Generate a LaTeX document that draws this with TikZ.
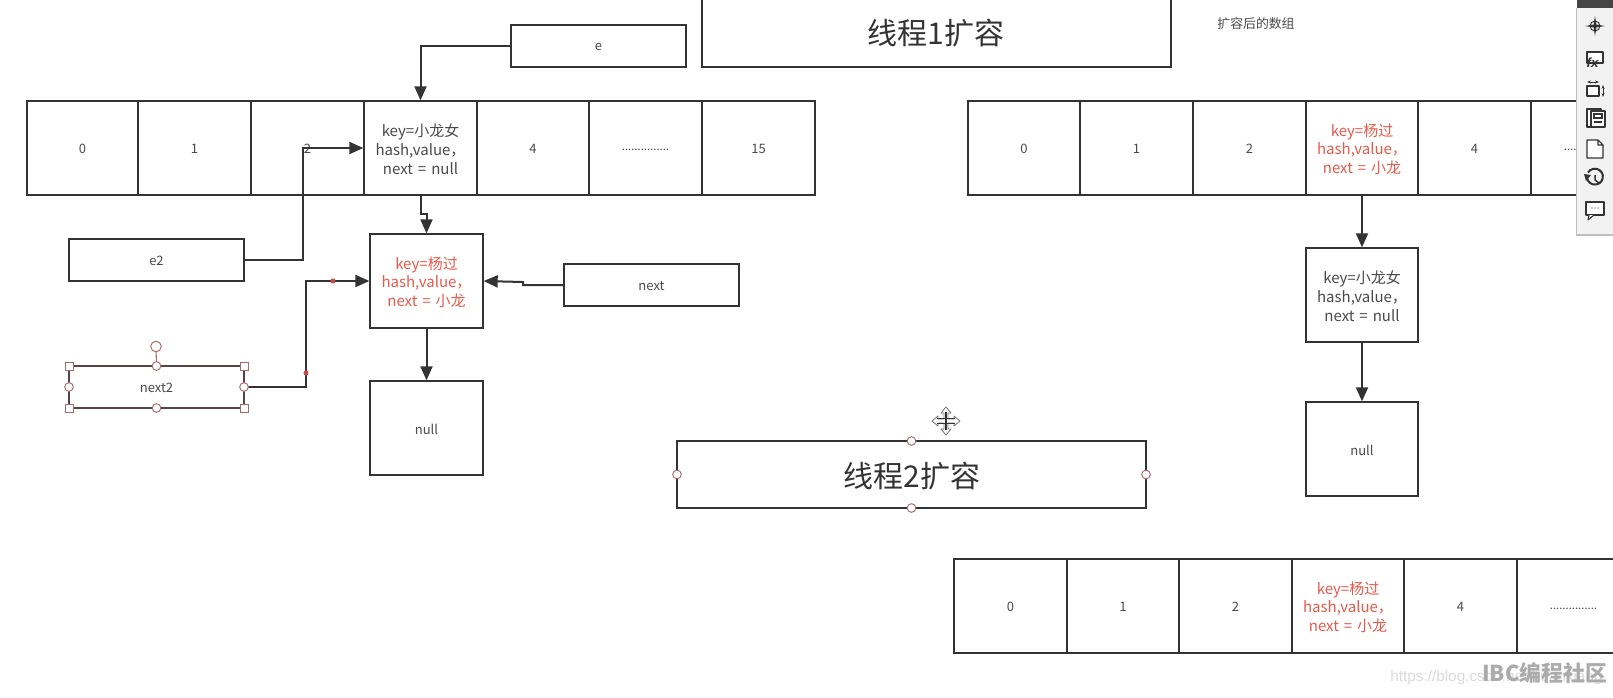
\documentclass[tikz,border=0pt]{standalone}
\usepackage{fontspec}
\setmainfont{Noto Sans CJK SC}
\newfontfamily\urlfont{Liberation Sans}
\usetikzlibrary{arrows.meta}
\definecolor{ink}{HTML}{333333}
\definecolor{txt}{HTML}{4A4A4A}
\definecolor{redt}{HTML}{EA5A4C}
\definecolor{hnd}{HTML}{A86A6A}
\definecolor{tbar}{HTML}{F2F2F2}
\definecolor{tbtop}{HTML}{454545}
\tikzset{
  bx/.style={draw=ink,line width=1.5pt,fill=white,inner sep=0pt,outer sep=0pt,align=center,text=txt,
     font=\fontsize{9.75}{14}\selectfont},
  big/.style={font=\fontsize{11.25}{14}\selectfont},
  redtext/.style={big,text=redt},
  title/.style={font=\fontsize{22.5}{26}\selectfont,text=ink},
  conn/.style={draw=ink,line width=1.5pt,-{Triangle[length=10.5pt,width=9pt]},shorten >=0.5pt},
  sq/.style={draw=hnd,fill=white,line width=0.7pt,minimum size=6pt,inner sep=0pt,rectangle},
  rd/.style={draw=hnd,fill=white,line width=0.7pt,minimum size=6.5pt,inner sep=0pt,circle},
  icon/.style={draw=ink,line width=0.8pt,fill=white,line join=round},
}
\newcommand{\bx}[7][]{%
  \node[bx,#1,anchor=north west,minimum width={(#4-#2)*0.75pt},minimum height={(#5-#3)*0.75pt}] (#6) at (#2,#3) {};
  \node[bx,#1,draw=none,fill=none,yshift=-0.8pt] (#6t) at (#6.center) {#7};}
\newcommand{\dotsrow}{\raisebox{-3pt}{\fontsize{8.5}{10}\selectfont ...............}}
\newcommand{\eqq}{\hspace{1.2pt}=\hspace{1.2pt}}
\begin{document}
\begin{tikzpicture}[x=0.75pt,y=-0.75pt]
\useasboundingbox (0,0) rectangle (1613,697);
\clip (0,0) rectangle (1613,697);
\fill[white] (0,0) rectangle (1613,697);

% left array
\bx{27}{101}{138}{195}{a0}{0}
\bx{138}{101}{251}{195}{a1}{1}
\bx{251}{101}{364}{195}{a2}{2}
\bx[big]{364}{101}{477}{195}{a3}{key=小龙女\\hash,value，\\next \eqq{} null}
\bx{477}{101}{589}{195}{a4}{4}
\bx{589}{101}{702}{195}{a5}{\dotsrow}
\bx{702}{101}{815}{195}{a6}{15}

\bx{511}{25}{686}{67}{e}{e}
\bx{69}{239}{244}{281}{e2}{e2}
\bx{564}{264}{739}{306}{nx}{next}
\bx[draw=ink!70!hnd]{69}{366}{244}{408}{nx2}{next2}
\bx[redtext]{370}{234}{483}{328}{yg}{key=杨过\\hash,value，\\next \eqq{} 小龙}
\bx{370}{381}{483}{475}{n1}{null}

% titles
\bx{702}{-30}{1171}{67}{t1}{}
\node[title] (t1t) at (936,33.5) {线程1扩容};
\bx{677}{441}{1146}{508}{t2}{}
\node[title] (t2t) at (912,476) {线程2扩容};
\node[text=txt,font=\fontsize{9.65}{12}\selectfont] (cap) at (1256,23.5) {扩容后的数组};

% right array
\bx{968}{101}{1080}{195}{b0}{0}
\bx{1080}{101}{1193}{195}{b1}{1}
\bx{1193}{101}{1306}{195}{b2}{2}
\bx[redtext]{1306}{101}{1418}{195}{b3}{key=杨过\\hash,value，\\next \eqq{} 小龙}
\bx{1418}{101}{1531}{195}{b4}{4}
\bx{1531}{101}{1644}{195}{b5}{\dotsrow}
\bx[big]{1306}{248}{1418}{342}{r1}{key=小龙女\\hash,value，\\next \eqq{} null}
\bx{1306}{402}{1418}{496}{r2}{null}

% bottom array
\bx{954}{559}{1067}{653}{c0}{0}
\bx{1067}{559}{1179}{653}{c1}{1}
\bx{1179}{559}{1292}{653}{c2}{2}
\bx[redtext]{1292}{559}{1404}{653}{c3}{key=杨过\\hash,value，\\next \eqq{} 小龙}
\bx{1404}{559}{1517}{653}{c4}{4}
\bx{1517}{559}{1630}{653}{c5}{\dotsrow}

% connectors
\draw[conn] (e.west) -| (a3.north);
\draw[conn] (e2.east) -- ++(59,0) |- (a3.west);
\draw[conn] (a3.south) -- ++(0,19) -- ++(6,0) -- (yg.north);
\draw[conn] (nx.west) -- ++(-41,0) -- ++(0,-3) -- (yg.east);
\draw[conn] (nx2.east) -- ++(62,0) |- (yg.west);
\draw[conn] (yg.south) -- (n1.north);
\draw[conn] (b3.south) -- (r1.north);
\draw[conn] (r1.south) -- (r2.north);

% connector editing points
\fill[redt!85!black] (333,281) circle (1.9pt);
\fill[redt!85!black] (306,373) circle (1.9pt);

% selection handles
\coordinate (rot) at (156,346.5);
\draw[hnd,line width=0.8pt] (rot) -- (nx2.north);
\node[rd,minimum size=8pt] (rotn) at (rot) {};
\foreach \a in {north west,north east,south west,south east}{\node[sq] at (nx2.\a) {};}
\foreach \a in {north,south,east,west}{\node[rd] at (nx2.\a) {};}
\foreach \a in {north,south,east,west}{\node[rd] at (t2.\a) {};}

% move cursor
\begin{scope}[shift={(946,421)}]
 \draw[fill=white,draw=black!55,line width=0.6pt,line join=round]
  (-2,-2)--(-2,-8)--(-5,-8)--(0,-14)--(5,-8)--(2,-8)--(2,-2)--(8,-2)--(8,-5)--(14,0)--(8,5)--(8,2)--(2,2)--(2,8)--(5,8)--(0,14)--(-5,8)--(-2,8)--(-2,2)--(-8,2)--(-8,5)--(-14,0)--(-8,-5)--(-8,-2)--cycle;
 \draw[ink,line width=1pt] (-9,-2.5)--(9,-2.5) (-9,2.5)--(9,2.5);
 \draw[ink,line width=1.5pt] (0,-9)--(0,9);
\end{scope}

% toolbar
\fill[black!25] (1575.5,8) rectangle (1613,235.5);
\fill[tbar] (1577,8) rectangle (1613,234);
\fill[tbtop] (1577,0) rectangle (1613,8);
% icon 1
\begin{scope}[shift={(1595,26)}]
 \fill[ink] (0,-10)--(1.4,-1.4)--(10,0)--(1.4,1.4)--(0,10)--(-1.4,1.4)--(-10,0)--(-1.4,-1.4)--cycle;
 \draw[ink,line width=0.7pt] (0,0) circle (5);
\end{scope}
% icon 2
\begin{scope}[shift={(1595,59)}]
 \draw[icon] (-8,-7) rectangle (8,4);
 \node[font=\urlfont\itshape\bfseries\fontsize{10}{10}\selectfont,text=ink,inner sep=0pt] (fx) at (-2.5,4) {fx};
\end{scope}
% icon 3
\begin{scope}[shift={(1595,88)}]
 \draw[icon] (-8,-2) rectangle (4,8);
 \draw[ink,line width=0.6pt,{Stealth[length=3pt]}-{Stealth[length=3pt]}] (-8,-6)--(4,-6);
 \draw[ink,line width=0.6pt,{Stealth[length=3pt]}-{Stealth[length=3pt]}] (8,-3)--(8,9);
\end{scope}
% icon 4
\begin{scope}[shift={(1595,118)}]
 \draw[icon] (-8,-9) rectangle (6,9);
 \draw[icon] (-4,-7) rectangle (10,9);
 \draw[ink,line width=0.9pt] (-1,-4) rectangle (7,0) (-1,4)--(7,4);
\end{scope}
% icon 5
\begin{scope}[shift={(1595,149)}]
 \draw[icon] (-8,-9)--(3,-9)--(8,-4)--(8,9)--(-8,9)--cycle (3,-9)--(3,-4)--(8,-4);
\end{scope}
% icon 6
\begin{scope}[shift={(1595,180)}]
 \draw[ink,line width=1.5pt] (-8,-2) arc[start angle=170,end angle=-150,radius=8];
 \fill[ink] (-11,-6)--(-4,-5)--(-9,1)--cycle;
 \draw[ink,line width=1.1pt] (0,-5)--(0,0)--(4,3);
\end{scope}
% icon 7
\begin{scope}[shift={(1595,210)}]
 \draw[icon] (-9,-8) rectangle (9,5) ;
 \draw[icon] (-6,5)--(-7,10)--(-1,5);
 \fill[ink] (-3,-2) circle (0.7) (0,-2) circle (0.7) (3,-2) circle (0.7);
\end{scope}

% watermarks
\node[anchor=west,inner sep=0pt,text=black!14,font=\urlfont\fontsize{11.5}{14}\selectfont] (url) at (1390,678) {https://blog.csdn.net/huanxiang};
\node[anchor=west,inner sep=0pt,text=black!33,font=\bfseries\fontsize{16.4}{20}\selectfont] (wm) at (1482,673) {IBC编程社区};
\end{tikzpicture}
\end{document}
